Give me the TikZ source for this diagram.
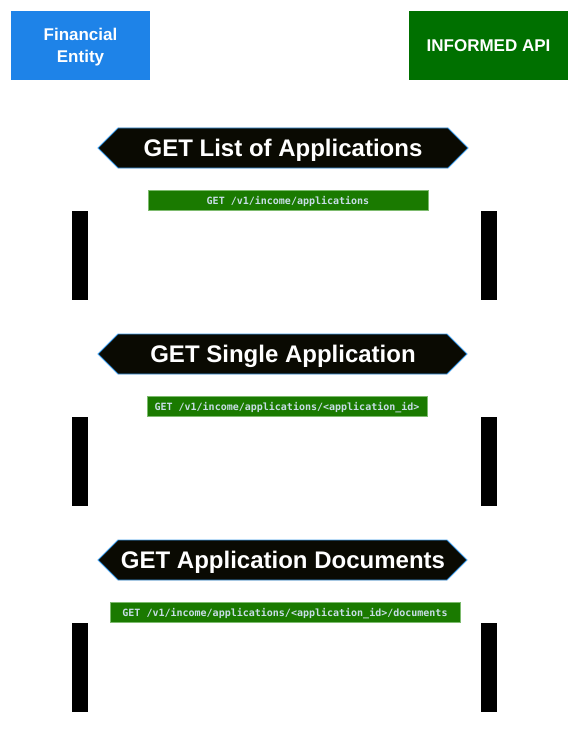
\documentclass[tikz,border=0pt]{standalone}
\usepackage{fontspec}
\setmainfont{Liberation Sans}
\newfontfamily\apimono{DejaVu Sans Mono}
\definecolor{entityblue}{HTML}{1E83E8}
\definecolor{apigreen}{HTML}{007000}
\definecolor{hexfill}{HTML}{0A0A02}
\definecolor{hexline}{HTML}{3D9BE9}
\definecolor{callfill}{HTML}{1A7A00}
\definecolor{callline}{HTML}{7DBB6E}
\definecolor{calltext}{HTML}{C8DDE6}
\begin{document}
\begin{tikzpicture}[x=1pt, y=-1pt,
        actor/.style={inner sep=0pt, align=center, text=white,
            font=\fontsize{17}{22}\selectfont\bfseries},
        title/.style={text=white, inner sep=0pt, anchor=base,
            font=\fontsize{24}{28}\selectfont\bfseries},
        call/.style={draw=callline, fill=callfill, inner sep=0pt,
            minimum height=20pt},
        calltext/.style={text=calltext, inner sep=0pt, anchor=base,
            font=\apimono\fontsize{10}{12}\selectfont\bfseries},
        bar/.style={fill=black}]
    \useasboundingbox (0, 0) rectangle (580, 741);
    % participants
    \fill[entityblue] (11, 11) rectangle (150, 80);
    \node[actor, anchor=base] (entity) at (80.5, 63) {Financial\\Entity};
    \node[actor, fill=apigreen, minimum width=159pt, minimum height=69pt] (api) at (488.5, 45.5) {INFORMED API};
    % list of applications
    \draw[fill=hexfill, draw=hexline, line width=0.8pt] (98, 148) -- (118, 128) -- (448, 128) -- (468, 148) -- (448, 168) -- (118, 168) -- cycle;
    \node[title] (list) at (283, 156) {GET List of Applications};
    \node[call, minimum width=280pt] (listcall) at (288, 200) {};
    \node[calltext] at (288, 204) {GET /v1/income/applications};
    \fill[bar] (72, 211) rectangle (88, 300);
    \fill[bar] (481, 211) rectangle (497, 300);
    % single application
    \draw[fill=hexfill, draw=hexline, line width=0.8pt] (98, 354) -- (118, 334) -- (447, 334) -- (467, 354) -- (447, 374) -- (118, 374) -- cycle;
    \node[title] (single) at (283, 362) {GET Single Application};
    \node[call, minimum width=280pt] (singlecall) at (287, 406) {};
    \node[calltext] at (287, 410) {GET /v1/income/applications/<application\_id>};
    \fill[bar] (72, 417) rectangle (88, 506);
    \fill[bar] (481, 417) rectangle (497, 506);
    % application documents
    \draw[fill=hexfill, draw=hexline, line width=0.8pt] (98, 560) -- (118, 540) -- (447, 540) -- (467, 560) -- (447, 580) -- (118, 580) -- cycle;
    \node[title] (docs) at (283, 568) {GET Application Documents};
    \node[call, minimum width=350pt] (docscall) at (285, 612) {};
    \node[calltext] at (285, 616) {GET /v1/income/applications/<application\_id>/documents};
    \fill[bar] (72, 623) rectangle (88, 712);
    \fill[bar] (481, 623) rectangle (497, 712);
\end{tikzpicture}
\end{document}
